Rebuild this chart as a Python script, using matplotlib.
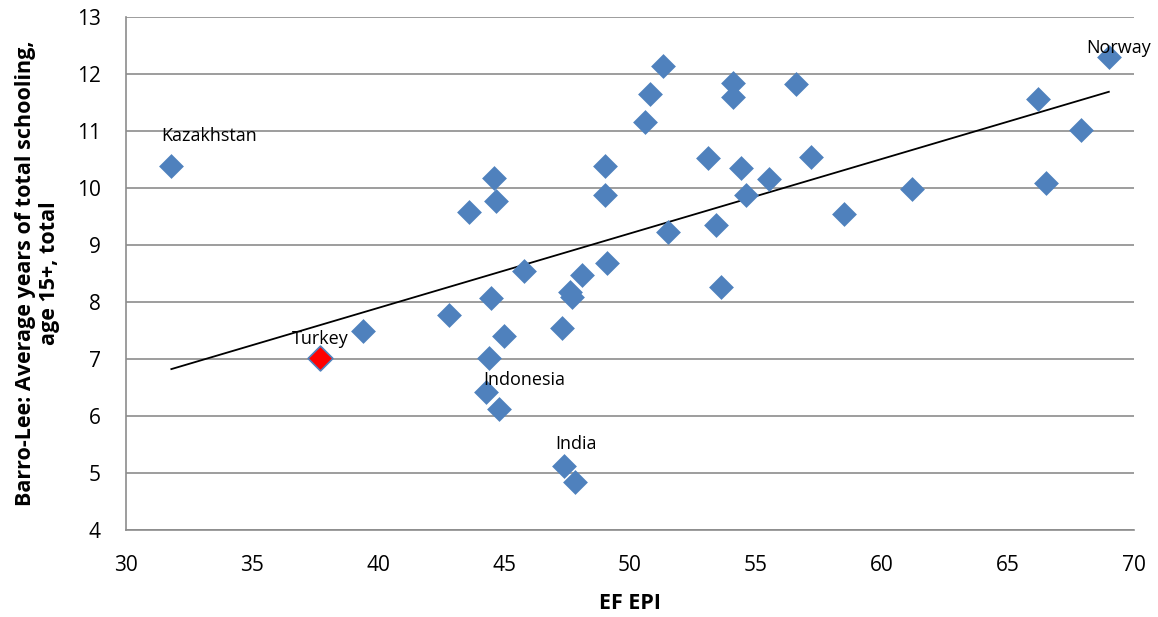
import numpy as np
import matplotlib.pyplot as plt

# EF EPI score vs average years of schooling
epi = [31.8, 37.7, 39.4, 42.8, 43.6, 44.6, 44.7, 44.5, 45.0, 44.4, 44.3, 44.8,
       45.8, 47.3, 47.6, 47.7, 48.1, 49.0, 49.0, 49.1, 47.4, 47.8, 50.6, 50.8,
       51.3, 51.5, 53.1, 53.4, 53.6, 54.1, 54.1, 54.4, 54.6, 55.5, 56.6, 57.2,
       58.5, 61.2, 66.2, 66.5, 67.9, 69.0]
school = [10.38, 7.02, 7.50, 7.78, 9.58, 10.18, 9.77, 8.07, 7.40, 7.02, 6.42, 6.12,
          8.55, 7.55, 8.18, 8.08, 8.48, 10.38, 9.88, 8.68, 5.13, 4.85, 11.16, 11.65,
          12.14, 9.22, 10.53, 9.35, 8.26, 11.85, 11.60, 10.36, 9.87, 10.15, 11.83, 10.54,
          9.55, 9.99, 11.57, 10.08, 11.02, 12.29]

turkey = (37.7, 7.02)

labels = ['Kazakhstan', 'Turkey', 'Indonesia', 'India', 'Norway']
label_x = [33.3, 37.7, 44.17, 47.86, 69.37]
label_y = [10.91, 7.35, 6.63, 5.51, 12.46]
label_ha = ['center', 'center', 'left', 'center', 'center']

plt.rcParams['font.family'] = ['Open Sans', 'DejaVu Sans']

fig = plt.figure(figsize=(11.58, 6.17), dpi=100)
ax = fig.add_axes([0.1088, 0.141, 0.8705, 0.8314])

ax.scatter(epi, school, marker='D', s=160, color='#4F81BD', zorder=3, linewidths=0)
ax.scatter([turkey[0]], [turkey[1]], marker='D', s=160, color='red',
           edgecolors='#4F81BD', linewidths=1.2, zorder=4)

# linear trend line
k, b = np.polyfit(epi, school, 1)
xs = np.array([min(epi), max(epi)])
ax.plot(xs, k * xs + b, color='black', lw=1.3, zorder=2)

for t, x, y, ha in zip(labels, label_x, label_y, label_ha):
    ax.text(x, y, t, ha=ha, va='center', fontsize=13, zorder=5)

ax.set_xlim(30, 70)
ax.set_ylim(4, 13)
ax.set_xticks(range(30, 71, 5))
ax.set_yticks(range(4, 14))
ax.yaxis.grid(True, color='#8c8c8c', lw=1.2)
ax.set_axisbelow(True)
for s in ['top', 'right']:
    ax.spines[s].set_visible(False)
for s in ['left', 'bottom']:
    ax.spines[s].set_color('#8c8c8c')
    ax.spines[s].set_linewidth(1.2)
ax.tick_params(axis='both', labelsize=15, length=0, pad=18)

ax.set_xlabel('EF EPI', fontsize=15.5, fontweight='bold', labelpad=12)
ax.set_ylabel('Barro-Lee: Average years of total schooling,\nage 15+, total',
              fontsize=15.5, fontweight='bold', labelpad=12, linespacing=1.2)

fig.savefig('out.png', dpi=100)
